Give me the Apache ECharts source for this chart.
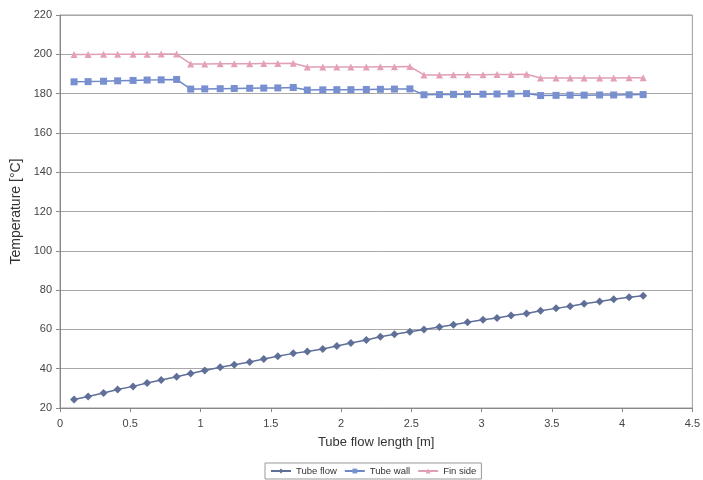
<!DOCTYPE html>
<html>
<head>
<meta charset="utf-8">
<script src="https://cdn.jsdelivr.net/npm/echarts@6/dist/echarts.min.js"></script>
<style>
html,body{margin:0;padding:0;background:#fff;}
#chart{width:703px;height:480px;}
</style>
</head>
<body>
<div id="chart"></div>
<script>
const xValues = [0.10,0.20,0.31,0.41,0.52,0.62,0.72,0.83,
  0.93,1.03,1.14,1.24,1.35,1.45,1.55,1.66,
  1.76,1.87,1.97,2.07,2.18,2.28,2.38,2.49,
  2.59,2.70,2.80,2.90,3.01,3.11,3.21,3.32,
  3.42,3.53,3.63,3.73,3.84,3.94,4.05,4.15];
const tubeFlow = [24.3,25.9,27.6,29.4,31.0,32.7,34.2,35.9,37.6,39.1,
  40.7,42.0,43.4,44.9,46.3,47.8,48.8,50.0,51.5,53.1,
  54.6,56.3,57.5,58.8,60.0,61.2,62.4,63.6,64.9,65.8,
  67.1,68.1,69.5,70.7,71.8,73.1,74.2,75.3,76.4,77.1];
const tubeWall = [186.0,186.1,186.3,186.5,186.7,186.9,187.0,187.2,
  182.3,182.4,182.5,182.6,182.7,182.8,182.9,183.1,
  181.8,181.9,182.0,182.0,182.1,182.2,182.3,182.4,
  179.4,179.5,179.6,179.7,179.7,179.8,179.9,180.0,
  179.0,179.1,179.2,179.2,179.3,179.3,179.4,179.5];
const finSide = [199.9,199.9,200.0,200.0,200.0,200.0,200.1,200.1,
  195.1,195.1,195.2,195.2,195.2,195.3,195.3,195.4,
  193.5,193.5,193.6,193.6,193.6,193.7,193.7,193.8,
  189.5,189.5,189.6,189.6,189.6,189.7,189.7,189.8,
  187.9,187.9,188.0,188.0,188.0,188.0,188.1,188.1];
const seriesNames = ['Tube flow','Tube wall','Fin side'];
const xAxisName = 'Tube flow length [m]';
const yAxisName = 'Temperature [°C]';

function pairs(ys){ return xValues.map((x,i)=>[x, ys[i]]); }

const chart = echarts.init(document.getElementById('chart'), null, {renderer:'canvas'});
const font = 'Liberation Sans, Arial, sans-serif';
chart.setOption({
  backgroundColor:'#ffffff',
  animation:false,
  textStyle:{fontFamily:font},
  grid:{left:60, right:9, top:15, bottom:72, show:true, borderColor:'#9a9a9a', borderWidth:1},
  xAxis:{
    type:'value', min:0, max:4.5, interval:0.5,
    name:xAxisName, nameLocation:'middle', nameGap:28,
    nameTextStyle:{fontSize:13, color:'#333', fontFamily:font},
    axisLine:{show:true, lineStyle:{color:'#888'}},
    axisTick:{show:true, length:4, lineStyle:{color:'#888'}},
    axisLabel:{fontSize:11, color:'#444', margin:10, fontFamily:font},
    splitLine:{show:false}
  },
  yAxis:{
    type:'value', min:20, max:220, interval:20,
    name:yAxisName, nameLocation:'middle', nameGap:27, nameRotate:90,
    nameTextStyle:{fontSize:14, color:'#333', fontFamily:font},
    axisLine:{show:true, lineStyle:{color:'#888'}},
    axisTick:{show:true, length:4, lineStyle:{color:'#888'}},
    axisLabel:{fontSize:11, color:'#444', margin:8, fontFamily:font},
    splitLine:{show:true, lineStyle:{color:'#a8a8a8', width:1}}
  },
  legend:{
    bottom:1, left:265,
    data:seriesNames,
    itemWidth:20, itemHeight:6, itemGap:7,
    borderColor:'#999', borderWidth:1, padding:[3,5],
    textStyle:{fontSize:9.5, color:'#333', fontFamily:font}
  },
  series:[
    {name:seriesNames[0], type:'line', data:pairs(tubeFlow),
     symbol:'diamond', symbolSize:8,
     lineStyle:{color:'#5f6f98', width:1.5},
     itemStyle:{color:'#5f6f98'}},
    {name:seriesNames[1], type:'line', data:pairs(tubeWall),
     symbol:'rect', symbolSize:7,
     lineStyle:{color:'#6f88c8', width:1.5},
     itemStyle:{color:'#7890d0'}},
    {name:seriesNames[2], type:'line', data:pairs(finSide),
     symbol:'triangle', symbolSize:7,
     lineStyle:{color:'#e0a0b4', width:1.5},
     itemStyle:{color:'#e4a0b6'}}
  ]
});
</script>
</body>
</html>
